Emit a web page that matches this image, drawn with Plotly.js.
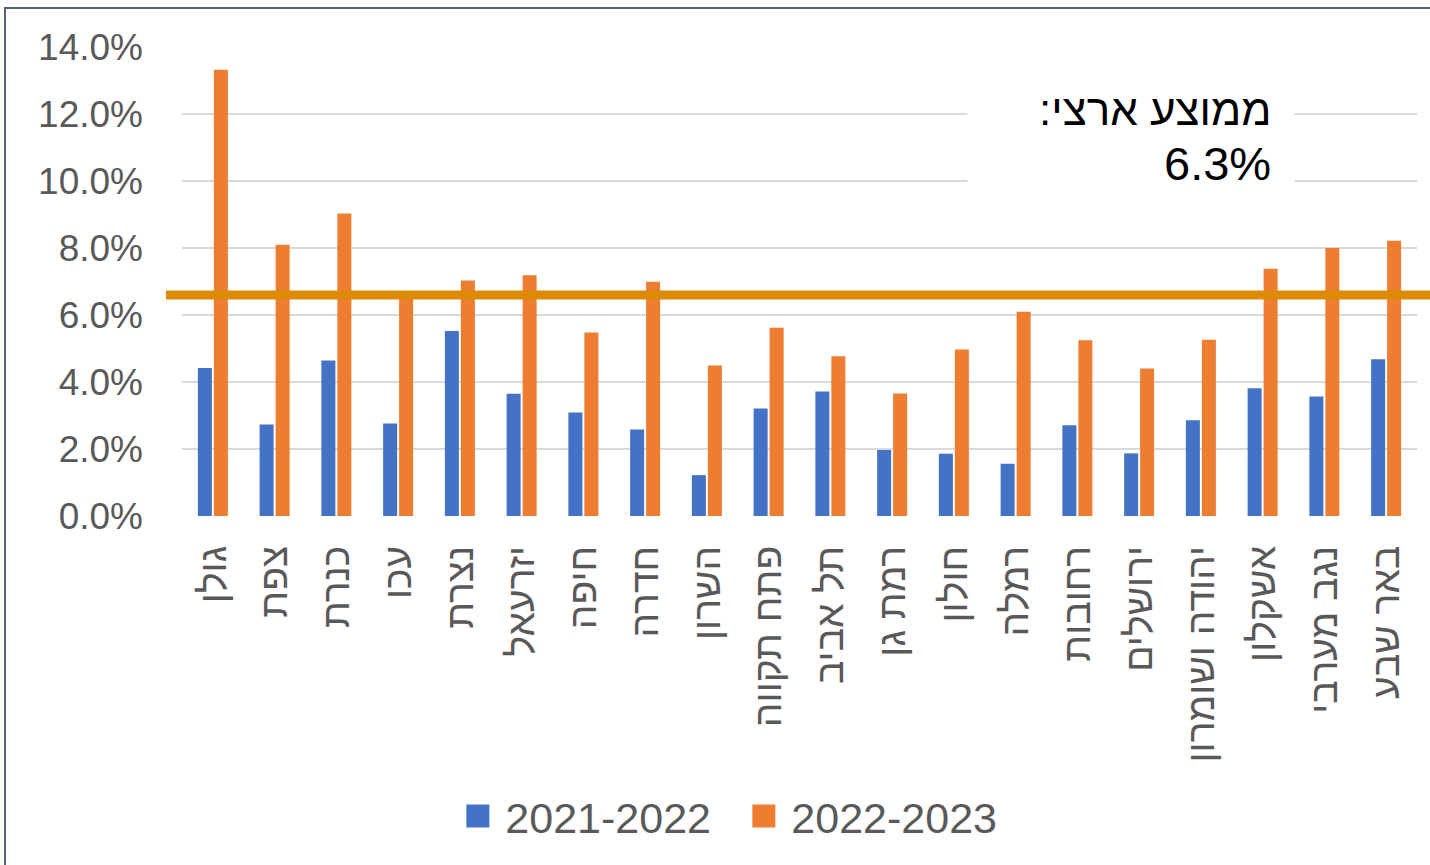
<!DOCTYPE html>
<html>
<head>
<meta charset="utf-8">
<script src="https://cdn.plot.ly/plotly-3.0.1.min.js"></script>
<style>
  html, body { margin: 0; padding: 0; background: #ffffff; overflow: hidden; }
  #frame { position: absolute; left: 4px; top: 7px; width: 1500px; height: 1000px; border: 2px solid #556273; box-sizing: border-box; }
  #chart { position: absolute; left: 0; top: 0; width: 1430px; height: 865px; }
</style>
</head>
<body>
<div id="frame"></div>
<div id="chart"></div>
<script>
// ---- data ----
const regions = ["גולן", "צפת", "כנרת", "עכו", "נצרת", "יזרעאל", "חיפה", "חדרה", "השרון", "פתח תקווה",
                 "תל אביב", "רמת גן", "חולון", "רמלה", "רחובות", "ירושלים", "יהודה ושומרון", "אשקלון", "נגב מערבי", "באר שבע"];
const series2122 = [4.42, 2.73, 4.64, 2.76, 5.52, 3.65, 3.09, 2.58, 1.22, 3.21,
                    3.72, 1.97, 1.86, 1.56, 2.71, 1.87, 2.86, 3.81, 3.57, 4.68];
const series2223 = [13.32, 8.10, 9.03, 6.60, 7.03, 7.19, 5.48, 6.99, 4.49, 5.62,
                    4.77, 3.66, 4.97, 6.10, 5.25, 4.40, 5.26, 7.38, 8.00, 8.22];
const seriesNames = ["2021-2022", "2022-2023"];
const nationalAvgLine = 6.6;           // where the drawn line sits
const nationalAvgLabel = "6.3%";       // the printed label
const avgTitle = "ממוצע ארצי:\u200F";
const yTicks = [0, 2, 4, 6, 8, 10, 12, 14];
const yTickLabels = ["0.0%", "2.0%", "4.0%", "6.0%", "8.0%", "10.0%", "12.0%", "14.0%"];

const gray = "#595959";
const fontFam = "Liberation Sans, Arial, sans-serif";

const traces = [
  { type: "bar", name: seriesNames[0], x: regions, y: series2122,
    marker: { color: "#4472C4" }, hoverinfo: "x+y" },
  { type: "bar", name: seriesNames[1], x: regions, y: series2223,
    marker: { color: "#ED7D31" }, hoverinfo: "x+y" }
];

const layout = {
  width: 1430, height: 865,
  margin: { l: 182, r: 13, t: 47, b: 349, pad: 0 },
  paper_bgcolor: "rgba(0,0,0,0)",
  plot_bgcolor: "rgba(0,0,0,0)",
  barmode: "group",
  bargap: 0.482,
  bargroupgap: 0.125,
  font: { family: fontFam, color: gray },
  xaxis: {
    type: "category",
    tickangle: -90,
    tickfont: { family: fontFam, size: 39, color: gray },
    ticks: "", showline: false, showgrid: false, zeroline: false,
    ticklabelstandoff: 21,
    automargin: false
  },
  yaxis: {
    range: [0, 14],
    tickmode: "array",
    tickvals: yTicks,
    ticktext: yTickLabels,
    tickfont: { family: fontFam, size: 37, color: gray },
    gridcolor: "#D9D9D9", gridwidth: 1.5,
    ticks: "", showline: false, zeroline: false,
    ticklabelstandoff: 38,
    automargin: false
  },
  showlegend: true,
  legend: {
    orientation: "h",
    x: 0.461, xanchor: "center",
    y: -0.64, yanchor: "middle",
    font: { family: fontFam, size: 43, color: gray },
    bgcolor: "rgba(0,0,0,0)",
    traceorder: "normal",
    entrywidth: 241
  },
  shapes: [
    { type: "rect", xref: "paper", yref: "paper",
      x0: 0.636, x1: 0.901, y0: 0.668, y1: 0.972,
      fillcolor: "#ffffff", line: { width: 0 }, layer: "above" },
    { type: "line", xref: "paper", yref: "y",
      x0: -0.013, x1: 1.011, y0: nationalAvgLine, y1: nationalAvgLine,
      line: { color: "#DC8A08", width: 9 }, layer: "above" }
  ],
  annotations: [
    { xref: "paper", yref: "paper", x: 0.8834, y: 0.867,
      xanchor: "right", yanchor: "middle",
      text: avgTitle, align: "right", showarrow: false,
      font: { family: fontFam, size: 44, color: "#000000" } },
    { xref: "paper", yref: "paper", x: 0.8834, y: 0.752,
      xanchor: "right", yanchor: "middle",
      text: nationalAvgLabel, align: "right", showarrow: false,
      font: { family: fontFam, size: 47, color: "#000000" } }
  ]
};

Plotly.newPlot("chart", traces, layout, { displayModeBar: false, staticPlot: true }).then(function (gd) {
  gd.querySelectorAll(".legend .legendpoints path").forEach(function (p) {
    p.removeAttribute("transform");
    p.setAttribute("d", "M24,11.5H1V-11.5H24Z");
    p.style.strokeWidth = "0px";
  });
});
</script>
</body>
</html>
